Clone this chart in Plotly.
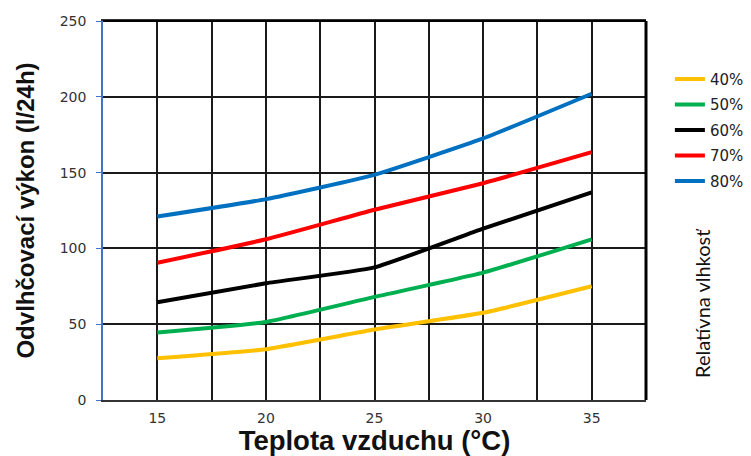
import plotly.graph_objects as go

temps = [15, 20, 25, 30, 35]
series_names = ["40%", "50%", "60%", "70%", "80%"]
rh40 = [27.5, 33.5, 46.5, 57.5, 75]
rh50 = [44.5, 51.5, 68, 84, 106]
rh60 = [64.5, 77, 87.5, 113, 137]
rh70 = [90.5, 106, 125.5, 143, 163.5]
rh80 = [121, 132.5, 148.5, 172.5, 202]
colors = ["#FFC000", "#00B050", "#000000", "#FF0000", "#0070C0"]

x_title = "Teplota vzduchu (°C)"
y_title = "Odvlhčovací výkon (l/24h)"
legend_title = "Relatívna vlhkosť"

fig = go.Figure()
for name, vals, col in zip(series_names, [rh40, rh50, rh60, rh70, rh80], colors):
    fig.add_trace(go.Scatter(
        x=temps, y=vals, name=name, mode="lines",
        line=dict(color=col, width=4, shape="spline", smoothing=0.4),
        legendgroup=name,
    ))

tick_font = dict(family="DejaVu Sans, sans-serif", size=14, color="#333333")
grid_col = "#1a1a1a"

# page body has an 8px default margin, so the figure is 8px smaller
fig.update_layout(
    width=743, height=448,
    margin=dict(l=95, r=105, t=13, b=56, autoexpand=False),
    paper_bgcolor="white", plot_bgcolor="white",
    font=dict(family="Arial, Liberation Sans, sans-serif", size=13, color="#333333"),
    showlegend=True,
    legend=dict(
        x=1.044, xanchor="left", y=0.89, yanchor="top",
        font=dict(family="DejaVu Sans, sans-serif", size=15, color="#222222"),
        tracegroupgap=3, bgcolor="rgba(0,0,0,0)",
    ),
    xaxis=dict(
        range=[12.5, 37.5], dtick=5, tick0=0,
        showgrid=True, gridcolor=grid_col, gridwidth=1.5,
        minor=dict(dtick=2.5, tick0=0, showgrid=True, gridcolor=grid_col, gridwidth=1.5),
        showline=True, linecolor="#333333", linewidth=2, mirror=True,
        ticks="", ticklabelstandoff=4, tickfont=tick_font,
        zeroline=False, automargin=False,
        title=dict(text="<b>" + x_title + "</b>",
                   font=dict(family="Arial, Liberation Sans, sans-serif", size=27.5, color="#111111"),
                   standoff=7),
    ),
    yaxis=dict(
        range=[0, 250], dtick=50,
        showgrid=True, gridcolor=grid_col, gridwidth=1.5,
        showline=True, linecolor="#4472C4", linewidth=1.5,
        ticks="outside", tickcolor="#4472C4", ticklen=5,
        ticklabelstandoff=7, tickfont=tick_font,
        zeroline=False, automargin=False,
        title=dict(text="<b>" + y_title + "</b>",
                   font=dict(family="Arial, Liberation Sans, sans-serif", size=24, color="#111111"),
                   standoff=18),
    ),
    shapes=[
        dict(type="line", xref="paper", yref="paper", x0=1, x1=1, y0=0, y1=1,
             line=dict(color="black", width=3)),
        dict(type="line", xref="paper", yref="paper", x0=0, x1=1, y0=1, y1=1,
             line=dict(color="black", width=2)),
    ],
    annotations=[
        dict(text=legend_title, xref="paper", yref="paper", x=1.103, y=0.256,
             xanchor="center", yanchor="middle", textangle=-90, showarrow=False,
             font=dict(family="Lato, sans-serif", size=20, color="#111111")),
    ],
)

fig.write_html("out.html")
